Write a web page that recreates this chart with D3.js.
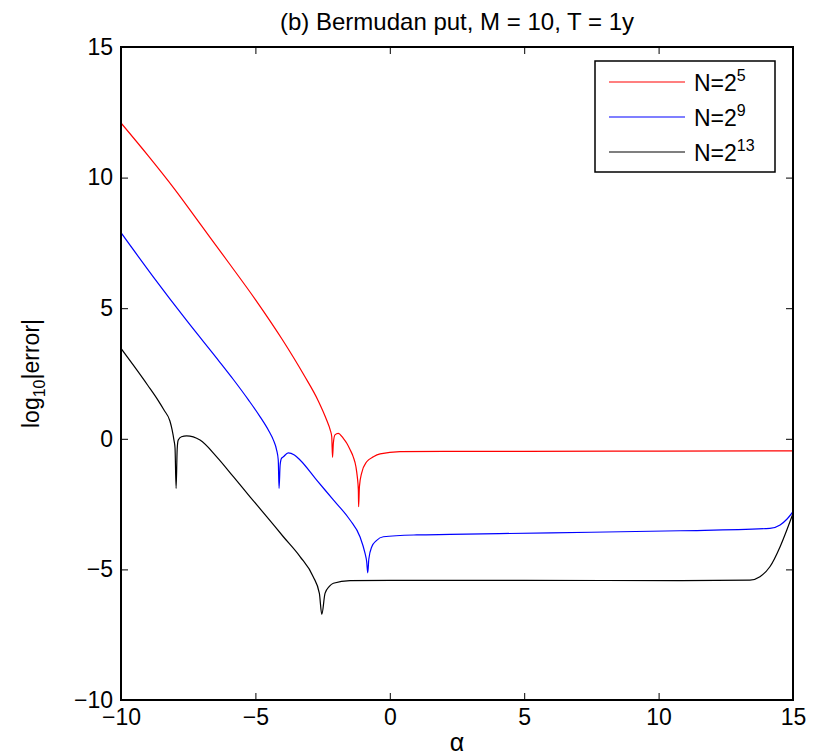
<!DOCTYPE html>
<html>
<head>
<meta charset="utf-8">
<script src="https://cdn.jsdelivr.net/npm/d3@7"></script>
<style>
  body { margin: 0; background: #fff; }
  svg text { font-family: "Liberation Sans", Arial, Helvetica, sans-serif; fill: #000; }
</style>
</head>
<body>
<div id="chart"></div>
<script>
// values
const alphaRed = [-10, -9, -8, -7, -6, -5, -4, -3.2, -2.66, -2.35, -2.22, -2.16, -2.13, -2.1, -2.04, -1.92, -1.73, -1.6, -1.48, -1.36, -1.26, -1.21, -1.17, -1.16, -1.13, -1.05, -0.86, -0.61, -0.36, 0.38, 2, 5, 10, 15];
const errRed = [12.09, 10.85, 9.55, 8.15, 6.75, 5.33, 3.8, 2.45, 1.45, 0.72, 0.35, 0.08, -0.71, -0.17, 0.15, 0.21, 0.02, -0.17, -0.41, -0.69, -1.07, -1.45, -1.96, -2.6, -1.83, -1.32, -0.88, -0.69, -0.58, -0.49, -0.48, -0.48, -0.47, -0.46];

const alphaBlue = [-10, -8.8, -7.56, -6.32, -5.82, -5.26, -4.83, -4.5, -4.33, -4.21, -4.15, -4.12, -4.08, -4.03, -3.96, -3.78, -3.55, -3.34, -2.72, -2.1, -1.48, -1.11, -0.92, -0.86, -0.82, -0.78, -0.67, -0.5, -0.24, 1, 2.24, 6, 10.8, 14.14, 14.52, 14.77, 15];
const errBlue = [7.89, 6.2, 4.53, 2.93, 2.27, 1.49, 0.85, 0.3, -0.05, -0.43, -0.81, -1.9, -1.0, -0.75, -0.69, -0.54, -0.62, -0.81, -1.58, -2.34, -3.11, -3.75, -4.39, -4.7, -5.13, -4.6, -4.13, -3.9, -3.75, -3.68, -3.66, -3.6, -3.52, -3.43, -3.3, -3.08, -2.79];

const alphaBlack = [-10, -9.5, -9, -8.62, -8.4, -8.18, -8.1, -8.03, -7.99, -7.95, -7.91, -7.87, -7.75, -7.56, -7.06, -6.44, -5.82, -5.2, -4.58, -3.96, -3.34, -2.85, -2.62, -2.53, -2.41, -2.25, -2.1, -1.48, 0, 5, 10.8, 13.4, 13.77, 14.14, 14.52, 14.77, 15];
const errBlack = [3.46, 2.76, 2.04, 1.47, 1.1, 0.68, 0.35, -0.05, -0.35, -1.9, -0.4, -0.05, 0.08, 0.11, -0.05, -0.69, -1.45, -2.22, -2.98, -3.75, -4.51, -5.28, -5.92, -6.72, -5.92, -5.65, -5.53, -5.43, -5.42, -5.42, -5.43, -5.41, -5.28, -4.9, -4.13, -3.49, -2.86];

const seriesNames = ["5", "9", "13"];
const seriesColors = ["#ff0000", "#0000ff", "#000000"];
const xTicks = [-10, -5, 0, 5, 10, 15];
const yTicks = [-10, -5, 0, 5, 10, 15];

const series = [
  { exp: seriesNames[0], color: seriesColors[0], xs: alphaRed, ys: errRed },
  { exp: seriesNames[1], color: seriesColors[1], xs: alphaBlue, ys: errBlue },
  { exp: seriesNames[2], color: seriesColors[2], xs: alphaBlack, ys: errBlack },
];

const width = 815, height = 755;
const margin = { top: 47, right: 22, bottom: 55, left: 121 };
const innerW = width - margin.left - margin.right;
const innerH = height - margin.top - margin.bottom;

const svg = d3.select("#chart").append("svg")
  .attr("width", width)
  .attr("height", height);

const g = svg.append("g").attr("transform", `translate(${margin.left},${margin.top})`);

const x = d3.scaleLinear().domain([-10, 15]).range([0, innerW]);
const y = d3.scaleLinear().domain([-10, 15]).range([innerH, 0]);

// clip the curves to the plot box
svg.append("defs").append("clipPath").attr("id", "plotclip")
  .append("rect").attr("width", innerW).attr("height", innerH);

const line = d3.line()
  .curve(d3.curveMonotoneX)
  .x((d) => x(d[0]))
  .y((d) => y(d[1]));

g.append("g").attr("clip-path", "url(#plotclip)")
  .selectAll("path")
  .data(series)
  .enter()
  .append("path")
  .attr("d", (s) => line(s.xs.map((v, i) => [v, s.ys[i]])))
  .attr("fill", "none")
  .attr("stroke", (s) => s.color)
  .attr("stroke-width", 1.2)
  .attr("stroke-linejoin", "round");

// axes, inward ticks on all four sides (matlab style)
const fmt = d3.format("");
const tickLen = 7;
const fontSize = 23;

g.append("g").attr("transform", `translate(0,${innerH})`)
  .call(d3.axisBottom(x).tickValues(xTicks).tickSizeInner(-tickLen).tickSizeOuter(0).tickPadding(9).tickFormat(fmt));
g.append("g")
  .call(d3.axisLeft(y).tickValues(yTicks).tickSizeInner(-tickLen).tickSizeOuter(0).tickPadding(8).tickFormat(fmt));
g.append("g")
  .call(d3.axisTop(x).tickValues(xTicks).tickSizeInner(-tickLen).tickSizeOuter(0).tickFormat(""));
g.append("g").attr("transform", `translate(${innerW},0)`)
  .call(d3.axisRight(y).tickValues(yTicks).tickSizeInner(-tickLen).tickSizeOuter(0).tickFormat(""));

g.selectAll(".domain").remove();
g.selectAll(".tick line").attr("stroke", "#000").attr("stroke-width", 1);
g.selectAll(".tick text")
  .style("font-family", '"Liberation Sans", Arial, sans-serif')
  .style("font-size", fontSize + "px")
  .attr("fill", "#000");

// frame
g.append("rect")
  .attr("width", innerW)
  .attr("height", innerH)
  .attr("fill", "none")
  .attr("stroke", "#000")
  .attr("stroke-width", 2);

// title and axis labels
svg.append("text")
  .attr("x", margin.left + innerW / 2)
  .attr("y", 30)
  .attr("text-anchor", "middle")
  .style("font-size", "24px")
  .text("(b) Bermudan put, M = 10, T = 1y");

svg.append("text")
  .attr("x", margin.left + innerW / 2)
  .attr("y", 751)
  .attr("text-anchor", "middle")
  .style("font-size", "25px")
  .text("α");

const yLab = svg.append("text")
  .attr("transform", `translate(39,${margin.top + innerH / 2}) rotate(-90)`)
  .attr("text-anchor", "middle")
  .style("font-size", "23px");
yLab.append("tspan").text("log");
yLab.append("tspan").attr("dy", 6).style("font-size", "16px").text("10");
yLab.append("tspan").attr("dy", -6).text("|error|");

// legend
const legX = 595, legY = 61, legW = 180, legH = 111;
svg.append("rect")
  .attr("x", legX).attr("y", legY)
  .attr("width", legW).attr("height", legH)
  .attr("fill", "#fff")
  .attr("stroke", "#000")
  .attr("stroke-width", 1.5);

const legItem = svg.selectAll(".leg")
  .data(series)
  .enter()
  .append("g")
  .attr("class", "leg")
  .attr("transform", (d, i) => `translate(${legX},${legY + 21 + i * 35})`);

legItem.append("line")
  .attr("x1", 14).attr("x2", 90)
  .attr("stroke", (d) => d.color)
  .attr("stroke-width", 1.2);

const legText = legItem.append("text")
  .attr("x", 99)
  .attr("y", 9)
  .style("font-size", "23px");
legText.append("tspan").text("N=2");
legText.append("tspan").attr("dy", -10).style("font-size", "16px").text((d) => d.exp);
</script>
</body>
</html>
